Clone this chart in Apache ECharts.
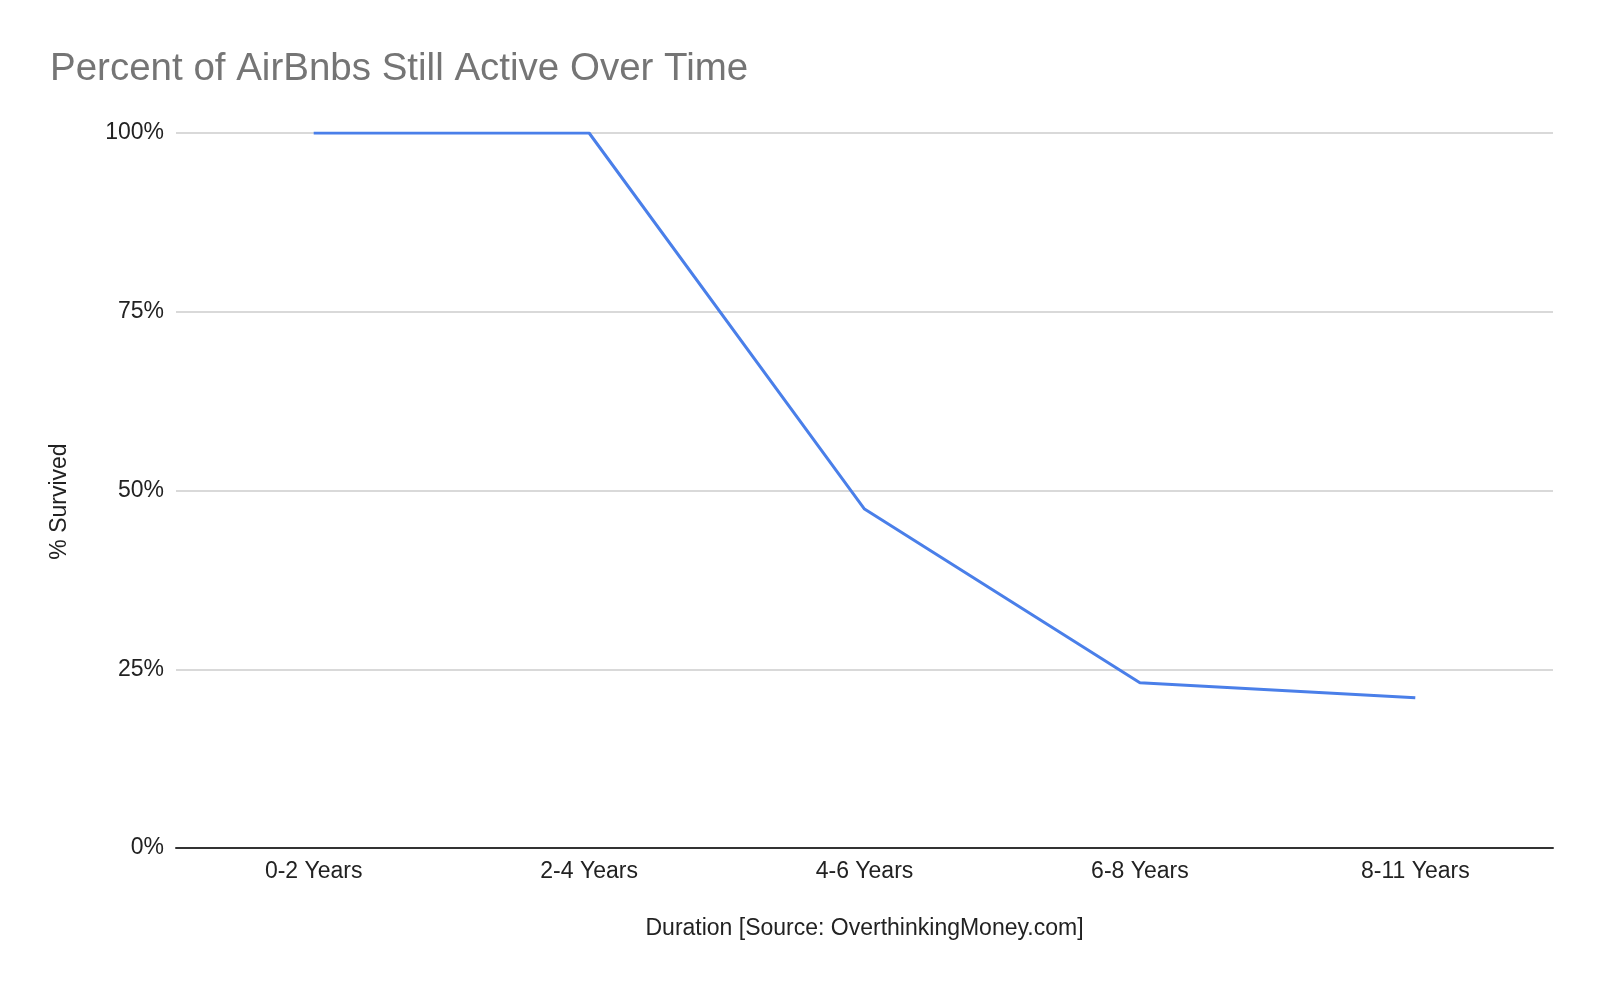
<!DOCTYPE html>
<html>
<head>
<meta charset="utf-8">
<script src="https://cdn.jsdelivr.net/npm/echarts@6/dist/echarts.min.js"></script>
<style>
html,body{margin:0;padding:0;background:#fff;}
#chart{width:1600px;height:987px;}
</style>
</head>
<body>
<div id="chart"></div>
<script>
const titleText = 'Percent of AirBnbs Still Active Over Time';
const categories = ['0-2 Years', '2-4 Years', '4-6 Years', '6-8 Years', '8-11 Years'];
const survived = [100, 100, 47.4, 23.1, 21.0];
const yTicks = [0, 25, 50, 75, 100];
const xAxisName = 'Duration [Source: OverthinkingMoney.com]';
const yAxisName = '% Survived';

const FONT = '"Liberation Sans", Arial, sans-serif';
const chart = echarts.init(document.getElementById('chart'));
chart.setOption({
  backgroundColor: '#ffffff',
  animation: false,
  title: {
    text: titleText,
    left: 45,
    top: 45,
    textStyle: { fontFamily: FONT, fontSize: 38.5, fontWeight: 'normal', color: '#757575' }
  },
  grid: { left: 176, right: 47, top: 133, bottom: 139, containLabel: false },
  xAxis: {
    type: 'category',
    data: categories,
    boundaryGap: true,
    name: xAxisName,
    nameLocation: 'middle',
    nameGap: 69,
    nameTextStyle: { fontFamily: FONT, fontSize: 23, color: '#222' },
    axisLine: { show: true, lineStyle: { color: '#333', width: 2 } },
    axisTick: { show: false },
    axisLabel: { fontFamily: FONT, fontSize: 23, color: '#222', margin: 12 }
  },
  yAxis: {
    type: 'value',
    min: yTicks[0],
    max: yTicks[yTicks.length - 1],
    interval: 25,
    name: yAxisName,
    nameLocation: 'middle',
    nameGap: 105,
    nameRotate: 90,
    nameTextStyle: { fontFamily: FONT, fontSize: 23, color: '#222', padding: [0, 22, 0, 0] },
    axisLine: { show: false },
    axisTick: { show: false },
    axisLabel: { fontFamily: FONT, fontSize: 23, color: '#222', margin: 12, formatter: v => v + '%' },
    splitLine: { show: true, lineStyle: { color: '#cccccc', width: 1.5 } }
  },
  series: [{
    type: 'line',
    data: survived,
    showSymbol: false,
    symbol: 'none',
    lineStyle: { color: '#4a7fe9', width: 3 },
    itemStyle: { color: '#4a7fe9' }
  }]
});
</script>
</body>
</html>
